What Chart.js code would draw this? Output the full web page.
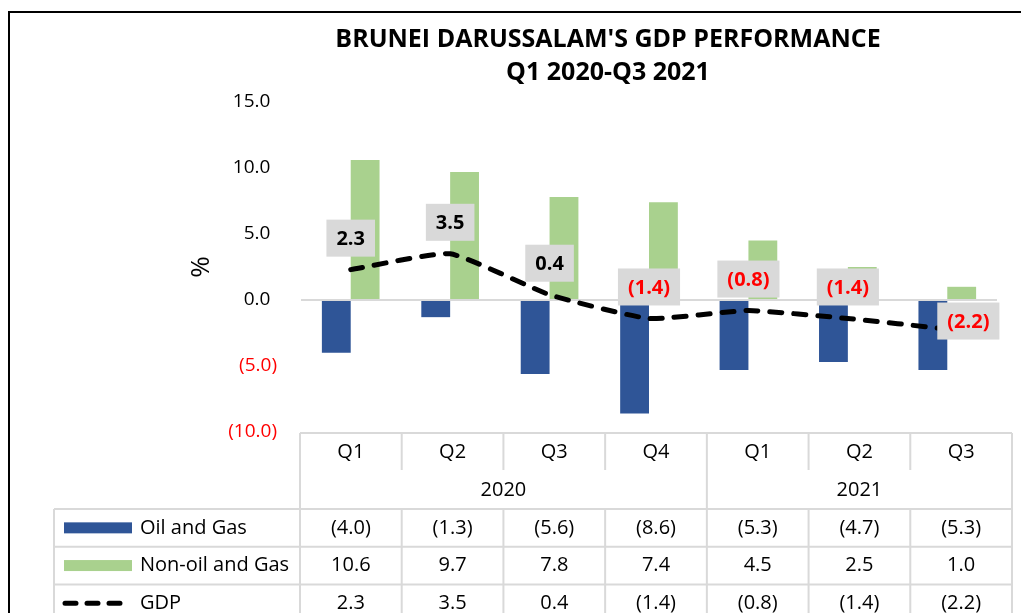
<!DOCTYPE html>
<html><head><meta charset="utf-8">
<script src="https://cdn.jsdelivr.net/npm/chart.js"></script>
<style>html,body{margin:0;padding:0;background:#fff;} canvas{display:block}</style>
</head><body><canvas id="c" width="1021" height="613" style="width:1021px;height:613px"></canvas>
<script>
const quarters = ['Q1','Q2','Q3','Q4','Q1','Q2','Q3'];
const years = ['2020','2021'];
const yearSpans = [4,3];
const oilGas = [-4.0,-1.3,-5.6,-8.6,-5.3,-4.7,-5.3];
const nonOilGas = [10.6,9.7,7.8,7.4,4.5,2.5,1.0];
const gdp = [2.3,3.5,0.4,-1.4,-0.8,-1.4,-2.2];
const seriesNames = ['Oil and Gas','Non-oil and Gas','GDP'];
const yTickValues = [15,10,5,0,-5,-10];
const titleLines = ["BRUNEI DARUSSALAM'S GDP PERFORMANCE","Q1 2020-Q3 2021"];
const yTitle = '%';

const FONT = "'Open Sans', 'Noto Sans', sans-serif";
const BLUE = '#2F5597', GREEN = '#A9D18E', RED = '#FF0000', TXT = '#000000', GRID = '#D9D9D9';

function fmt(v){ return v < 0 ? '(' + Math.abs(v).toFixed(1) + ')' : v.toFixed(1); }

const deco = {
  id: 'deco',
  afterDatasetsDraw(chart) {
    const ctx = chart.ctx;
    const meta = chart.getDatasetMeta(2);
    const opts = chart.options.plugins.deco;
    ctx.save();
    ctx.font = "bold 20px " + FONT;
    ctx.textAlign = 'center';
    ctx.textBaseline = 'middle';
    meta.data.forEach((pt, i) => {
      const v = gdp[i];
      const txt = fmt(v);
      const w = ctx.measureText(txt).width + 20;
      const h = 37;
      let cx, cy;
      if (opts.labelPos[i] === 'right') {
        cx = pt.x - 10 + w / 2;
        cy = pt.y - 8;
      } else {
        cx = pt.x;
        cy = pt.y - 13 - h / 2;
      }
      ctx.fillStyle = '#D9D9D9';
      ctx.fillRect(cx - w / 2, cy - h / 2, w, h);
      ctx.fillStyle = v < 0 ? RED : '#000';
      ctx.fillText(txt, cx, cy + 1);
    });
    ctx.restore();
  },
  afterDraw(chart) {
    const ctx = chart.ctx;
    ctx.save();
    ctx.strokeStyle = '#000';
    ctx.lineWidth = 2;
    ctx.beginPath();
    ctx.moveTo(9, 613); ctx.lineTo(9, 12); ctx.lineTo(1021, 12);
    ctx.stroke();
    ctx.fillStyle = '#000';
    ctx.font = "bold 25px " + FONT;
    ctx.textAlign = 'center';
    ctx.textBaseline = 'middle';
    ctx.fillText(titleLines[0], 608, 40);
    ctx.fillText(titleLines[1], 608, 73);

    const x0 = 300, x1 = 1012, n = quarters.length;
    const cw = (x1 - x0) / n;
    const colX = i => x0 + i * cw;
    const yTop = 433, yQ = 470, yData = 509, rowH = 37.7, yBot = 613;
    ctx.strokeStyle = GRID;
    ctx.lineWidth = 2;
    ctx.beginPath();
    ctx.moveTo(x0, yTop); ctx.lineTo(x1, yTop);
    for (let r = 0; r < 3; r++) {
      const yy = yData + r * rowH;
      ctx.moveTo(54, yy); ctx.lineTo(x1, yy);
    }
    ctx.moveTo(54, yData); ctx.lineTo(54, yBot);
    const yearBounds = [0];
    yearSpans.forEach(s => yearBounds.push(yearBounds[yearBounds.length - 1] + s));
    for (let i = 0; i <= n; i++) {
      const xx = colX(i);
      if (yearBounds.includes(i)) {
        ctx.moveTo(xx, yTop); ctx.lineTo(xx, yBot);
      } else {
        ctx.moveTo(xx, yTop); ctx.lineTo(xx, yQ);
        ctx.moveTo(xx, yData); ctx.lineTo(xx, yBot);
      }
    }
    ctx.stroke();

    ctx.font = "20px " + FONT;
    ctx.fillStyle = TXT;
    ctx.textAlign = 'center';
    ctx.textBaseline = 'middle';
    quarters.forEach((q, i) => ctx.fillText(q, colX(i) + cw / 2, 452));
    years.forEach((y, k) => {
      const a = colX(yearBounds[k]), b = colX(yearBounds[k + 1]);
      ctx.fillText(y, (a + b) / 2, 490);
    });
    const rows = [oilGas, nonOilGas, gdp];
    rows.forEach((arr, r) => {
      const yy = yData + r * rowH + rowH / 2;
      arr.forEach((v, i) => ctx.fillText(fmt(v), colX(i) + cw / 2, yy));
    });
    ctx.textAlign = 'left';
    seriesNames.forEach((nm, r) => {
      const yy = yData + r * rowH + rowH / 2;
      if (r === 0) { ctx.fillStyle = BLUE; ctx.fillRect(64, yy - 5.5, 68, 11); }
      else if (r === 1) { ctx.fillStyle = GREEN; ctx.fillRect(64, yy - 5.5, 68, 11); }
      else {
        ctx.strokeStyle = '#000'; ctx.lineWidth = 5; ctx.lineCap = 'round';
        ctx.beginPath();
        for (let d = 0; d < 3; d++) { ctx.moveTo(65 + d * 22, yy); ctx.lineTo(76 + d * 22, yy); }
        ctx.stroke();
      }
      ctx.fillStyle = TXT;
      ctx.fillText(nm, 140, yy);
    });
    ctx.restore();
  }
};

new Chart(document.getElementById('c'), {
  type: 'bar',
  data: {
    labels: quarters.map((q, i) => q + ' ' + (i < yearSpans[0] ? years[0] : years[1])),
    datasets: [
      { label: seriesNames[0], data: oilGas, backgroundColor: BLUE, order: 1 },
      { label: seriesNames[1], data: nonOilGas, backgroundColor: GREEN, order: 1 },
      { label: seriesNames[2], data: gdp, type: 'line', borderColor: '#000', borderWidth: 5,
        borderDash: [12, 12], borderCapStyle: 'round', pointRadius: 0, tension: 0.15, fill: false, order: 0 }
    ]
  },
  options: {
    responsive: false,
    animation: false,
    layout: { padding: { top: 102, bottom: 181, left: 0, right: 24 } },
    datasets: { bar: { categoryPercentage: 0.58, barPercentage: 1.0 } },
    plugins: {
      legend: { display: false },
      title: { display: false },
      tooltip: { enabled: false },
      deco: { labelPos: ['top','top','top','top','top','top','right'] }
    },
    scales: {
      x: { display: false, offset: true },
      y: {
        min: -10, max: 15,
        afterBuildTicks: s => { s.ticks = yTickValues.map(v => ({ value: v })); },
        afterFit: s => { s.width = 301; },
        ticks: {
          padding: 24,
          font: { family: FONT, size: 19 },
          color: c => c.tick.value < 0 ? RED : TXT,
          callback: v => v < 0 ? fmt(v) : fmt(v) + '\u2005\u200A'
        },
        grid: {
          drawTicks: false,
          lineWidth: 2,
          color: c => c.tick && c.tick.value === 0 ? GRID : 'rgba(0,0,0,0)'
        },
        border: { display: false },
        title: { display: true, text: yTitle, font: { family: FONT, size: 26 }, color: TXT, padding: { top: 186, bottom: 0 } }
      }
    }
  },
  plugins: [deco]
});
</script>
</body></html>
